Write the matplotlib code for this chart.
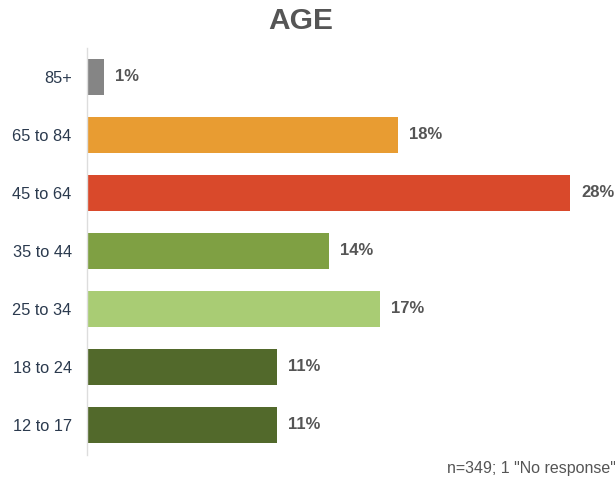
import matplotlib.pyplot as plt
import numpy as np

plt.rcParams['font.family'] = ['Liberation Sans', 'DejaVu Sans']

categories = ["12 to 17", "18 to 24", "25 to 34", "35 to 44", "45 to 64", "65 to 84", "85+"]
percents = [11, 11, 17, 14, 28, 18, 1]
colors = ["#52692b", "#52692b", "#a9cc74", "#7fa043", "#d9492b", "#e89c32", "#858585"]

fig = plt.figure(figsize=(6.15, 4.84), dpi=100)
ax = fig.add_axes([87 / 615, 1 - 455 / 484, (600 - 87) / 615, (455 - 48) / 484])

y = np.arange(len(categories))
ax.barh(y, percents, height=0.62, color=colors)

for yi, p in zip(y, percents):
    ax.text(p + 0.65, yi, f"{p}%", va="center", ha="left", fontsize=12,
            fontweight="bold", color="#555555")

ax.set_xlim(0, (600 - 87) / 17.25)
ax.set_ylim(-0.52, 6.5)
ax.set_yticks(y)
ax.set_yticklabels(categories, fontsize=11.8, color="#2b3a4e")
ax.tick_params(axis="y", length=0, pad=11)
ax.set_xticks([])
for s in ["top", "right", "bottom"]:
    ax.spines[s].set_visible(False)
ax.spines["left"].set_color("#dddddd")
ax.spines["left"].set_linewidth(1)

fig.text(301 / 615, 1 - 21 / 484, "AGE", ha="center", va="center",
         fontsize=21.5, fontweight="bold", color="#555555")
fig.text(616 / 615, 1 - 468 / 484, 'n=349; 1 "No response"', ha="right", va="center",
         fontsize=11.5, color="#555555")

fig.savefig("out.png", dpi=100)
